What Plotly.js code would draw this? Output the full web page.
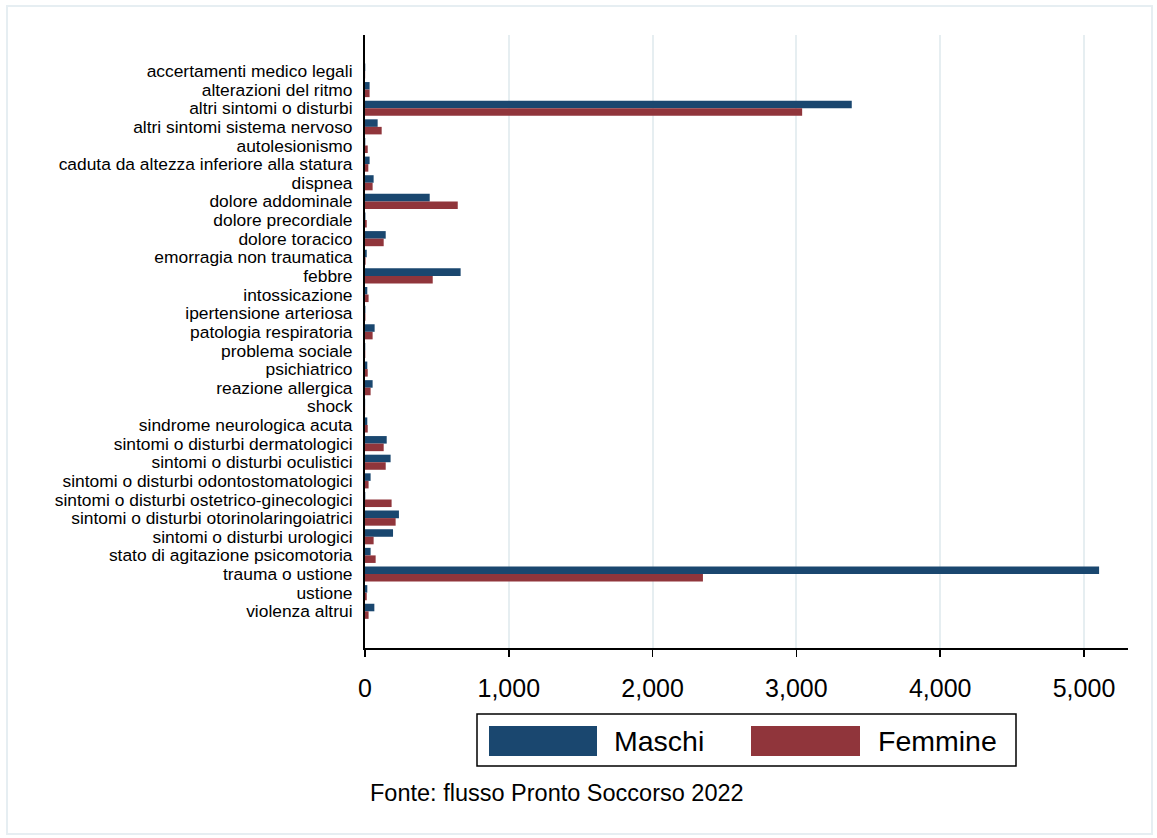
<!DOCTYPE html>
<html>
<head>
<meta charset="utf-8">
<script src="https://cdn.plot.ly/plotly-3.0.1.min.js"></script>
<style>
  html, body { margin: 0; padding: 0; background: #ffffff; }
  #wrap { position: relative; width: 1157px; height: 838px; }
  #chart { position: absolute; left: 0; top: 0; width: 1157px; height: 838px; }
  #frame { position: absolute; left: 6px; top: 5px; width: 1143px; height: 826px;
           border: 2px solid #e6eef2; pointer-events: none; }
</style>
</head>
<body>
<div id="wrap">
  <div id="chart"></div>
  <div id="frame"></div>
</div>
<script>
const categories = [
  "accertamenti medico legali",
  "alterazioni del ritmo",
  "altri sintomi o disturbi",
  "altri sintomi sistema nervoso",
  "autolesionismo",
  "caduta da altezza inferiore alla statura",
  "dispnea",
  "dolore addominale",
  "dolore precordiale",
  "dolore toracico",
  "emorragia non traumatica",
  "febbre",
  "intossicazione",
  "ipertensione arteriosa",
  "patologia respiratoria",
  "problema sociale",
  "psichiatrico",
  "reazione allergica",
  "shock",
  "sindrome neurologica acuta",
  "sintomi o disturbi dermatologici",
  "sintomi o disturbi oculistici",
  "sintomi o disturbi odontostomatologici",
  "sintomi o disturbi ostetrico-ginecologici",
  "sintomi o disturbi otorinolaringoiatrici",
  "sintomi o disturbi urologici",
  "stato di agitazione psicomotoria",
  "trauma o ustione",
  "ustione",
  "violenza altrui"
];

const maschi = [2, 32, 3385, 88, 2, 32, 60, 450, 3, 144, 12, 665, 16, 3, 67, 2, 16, 53, 1, 16, 151, 178, 39, 2, 236, 195, 39, 5105, 16, 65];
const femmine = [1, 32, 3040, 116, 19, 23, 53, 645, 12, 130, 4, 471, 25, 3, 53, 2, 19, 39, 1, 19, 130, 144, 25, 185, 213, 60, 74, 2350, 12, 25];

const seriesNames = ["Maschi", "Femmine"];
const seriesColors = ["#1a476f", "#90353b"];
const xTickVals = [0, 1000, 2000, 3000, 4000, 5000];
const xTickText = ["0", "1,000", "2,000", "3,000", "4,000", "5,000"];
const sourceNote = "Fonte: flusso Pronto Soccorso 2022";

const traces = [maschi, femmine].map((vals, i) => ({
  type: "bar",
  orientation: "h",
  name: seriesNames[i],
  x: vals,
  y: categories,
  marker: { color: seriesColors[i], line: { width: 0 } },
  showlegend: false,
  hoverinfo: "x+y"
}));

// plot area in pixels: left 365, right 1128, top 35, bottom 648
const L = 365, R = 1128, T = 35, B = 648;
const W = R - L, H = B - T;
const px = x => (x - L) / W;
const py = y => (B - y) / H;

const shapes = [
  { type: "rect", xref: "paper", yref: "paper",
    x0: px(477), x1: px(1016), y0: py(766), y1: py(714),
    line: { color: "#000000", width: 1.5 }, fillcolor: "#ffffff" },
  { type: "rect", xref: "paper", yref: "paper",
    x0: px(489), x1: px(597), y0: py(756), y1: py(726),
    line: { width: 0 }, fillcolor: seriesColors[0] },
  { type: "rect", xref: "paper", yref: "paper",
    x0: px(751), x1: px(860), y0: py(756), y1: py(726),
    line: { width: 0 }, fillcolor: seriesColors[1] }
];

const annotations = [
  { xref: "paper", yref: "paper", x: px(612), y: py(741), xanchor: "left", yanchor: "middle",
    text: seriesNames[0], showarrow: false,
    font: { family: "Liberation Sans, Arial, sans-serif", size: 28.5, color: "#000000" } },
  { xref: "paper", yref: "paper", x: px(876), y: py(741), xanchor: "left", yanchor: "middle",
    text: seriesNames[1], showarrow: false,
    font: { family: "Liberation Sans, Arial, sans-serif", size: 28.5, color: "#000000" } },
  { xref: "paper", yref: "paper", x: px(368), y: py(793), xanchor: "left", yanchor: "middle",
    text: sourceNote, showarrow: false,
    font: { family: "Liberation Sans, Arial, sans-serif", size: 23.5, color: "#000000" } }
];

const layout = {
  width: 1157,
  height: 838,
  margin: { l: L, r: 1157 - R, t: T, b: 838 - B, pad: 0 },
  paper_bgcolor: "#ffffff",
  plot_bgcolor: "#ffffff",
  barmode: "group",
  bargap: 0.19,
  bargroupgap: 0,
  font: { family: "Liberation Sans, Arial, sans-serif", color: "#000000" },
  xaxis: {
    range: [0, 5306],
    tickmode: "array",
    tickvals: xTickVals,
    ticktext: xTickText,
    ticks: "outside",
    ticklen: 7,
    tickwidth: 1.5,
    tickcolor: "#000000",
    ticklabelstandoff: 10,
    tickfont: { size: 25, color: "#000000" },
    showgrid: true,
    gridcolor: "#e6eef1",
    gridwidth: 2,
    zeroline: false,
    showline: true,
    linecolor: "#000000",
    linewidth: 1.5,
    fixedrange: true
  },
  yaxis: {
    type: "category",
    categoryorder: "array",
    categoryarray: categories,
    tickmode: "array",
    tickvals: categories,
    ticktext: categories,
    range: [30.97, -1.93],
    ticks: "",
    ticklabelstandoff: 7,
    tickfont: { size: 17.4, color: "#000000" },
    showgrid: false,
    zeroline: false,
    showline: true,
    linecolor: "#000000",
    linewidth: 2,
    fixedrange: true
  },
  shapes: shapes,
  annotations: annotations,
  showlegend: false
};

Plotly.newPlot("chart", traces, layout, { displayModeBar: false, staticPlot: true });
</script>
</body>
</html>
